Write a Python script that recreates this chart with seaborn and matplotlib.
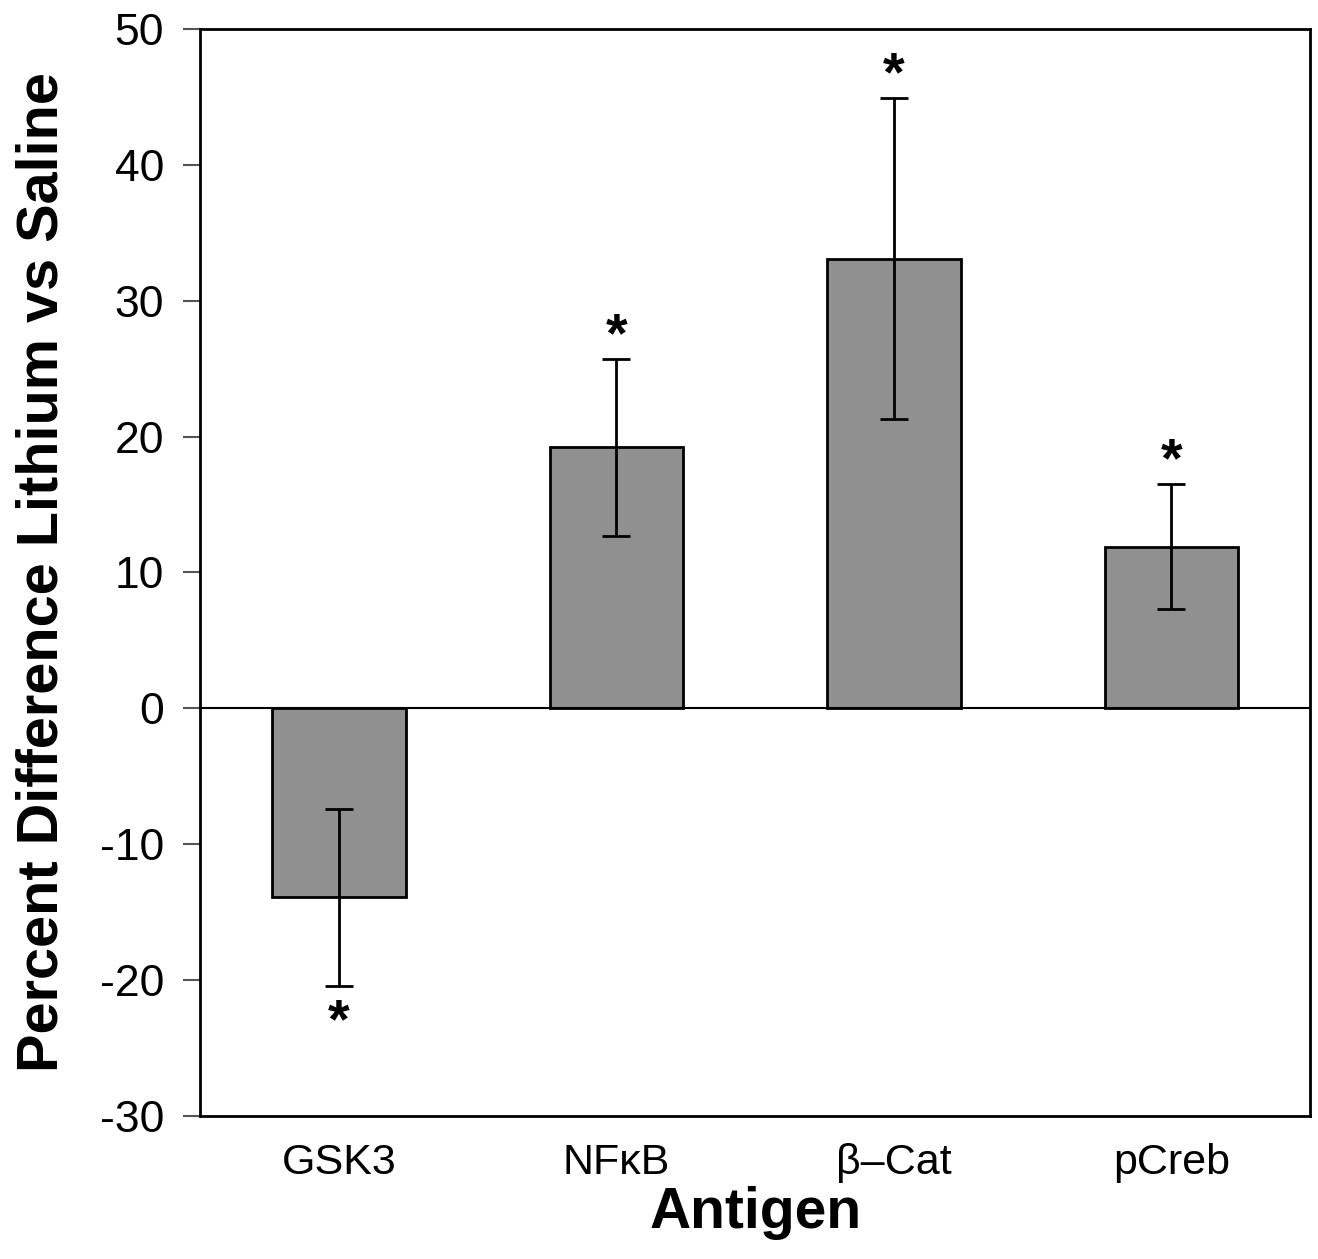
import matplotlib
matplotlib.use("Agg")
import matplotlib.pyplot as plt
import seaborn as sns
import pandas as pd
import numpy as np

# dados
antigens = ["GSK3", "NF\u03baB", "\u03b2\u2013Cat", "pCreb"]
pct_diff = [-13.9, 19.2, 33.1, 11.9]
sem = [6.5, 6.5, 11.8, 4.6]
signif = ["*", "*", "*", "*"]

df = pd.DataFrame({"Antigen": antigens, "diff": pct_diff, "err": sem})

sns.set_style("white")
plt.rcParams['font.family'] = ['Liberation Sans', 'DejaVu Sans']
plt.rcParams['axes.unicode_minus'] = False
plt.rcParams['text.color'] = 'black'
plt.rcParams['axes.labelcolor'] = 'black'
plt.rcParams['xtick.color'] = 'black'
plt.rcParams['ytick.color'] = 'black'

fig = plt.figure(figsize=(13.18, 12.59), dpi=100)
ax = fig.add_axes([0.152, 0.1136, 0.842, 0.8634])

sns.barplot(data=df, x="Antigen", y="diff", color="#909090", saturation=1,
            edgecolor="black", linewidth=2, width=0.48, errorbar=None, ax=ax)

x = np.arange(len(antigens))
ax.errorbar(x, df["diff"], yerr=df["err"], fmt="none", ecolor="black",
            elinewidth=2, capsize=10, capthick=2)

# asteriscos acima/abaixo das barras de erro
for i, (v, e, s) in enumerate(zip(pct_diff, sem, signif)):
    if v >= 0:
        ax.text(i, v + e - 0.3, s, ha="center", va="bottom", fontsize=40, fontweight="bold")
    else:
        ax.text(i, v - e - 0.9, s, ha="center", va="top", fontsize=40, fontweight="bold")

ax.axhline(0, color="black", linewidth=1.5)
ax.set_ylim(-30, 50)
ax.set_xlim(-0.5, 3.5)
ax.set_yticks(range(-30, 51, 10))

for sp in ax.spines.values():
    sp.set_visible(True)
    sp.set_color("black")
    sp.set_linewidth(2)

ax.tick_params(axis="y", left=True, length=12, width=1.5, color="#555555",
               labelcolor="black", labelsize=32, pad=14)
ax.tick_params(axis="x", bottom=False, labelsize=31, labelcolor="black", pad=16)

ax.set_xlabel("Antigen", fontsize=41, fontweight="bold", labelpad=2)
ax.set_ylabel("Percent Difference Lithium vs Saline", fontsize=41.5, fontweight="bold", labelpad=22)

fig.savefig("out.png", dpi=100)
